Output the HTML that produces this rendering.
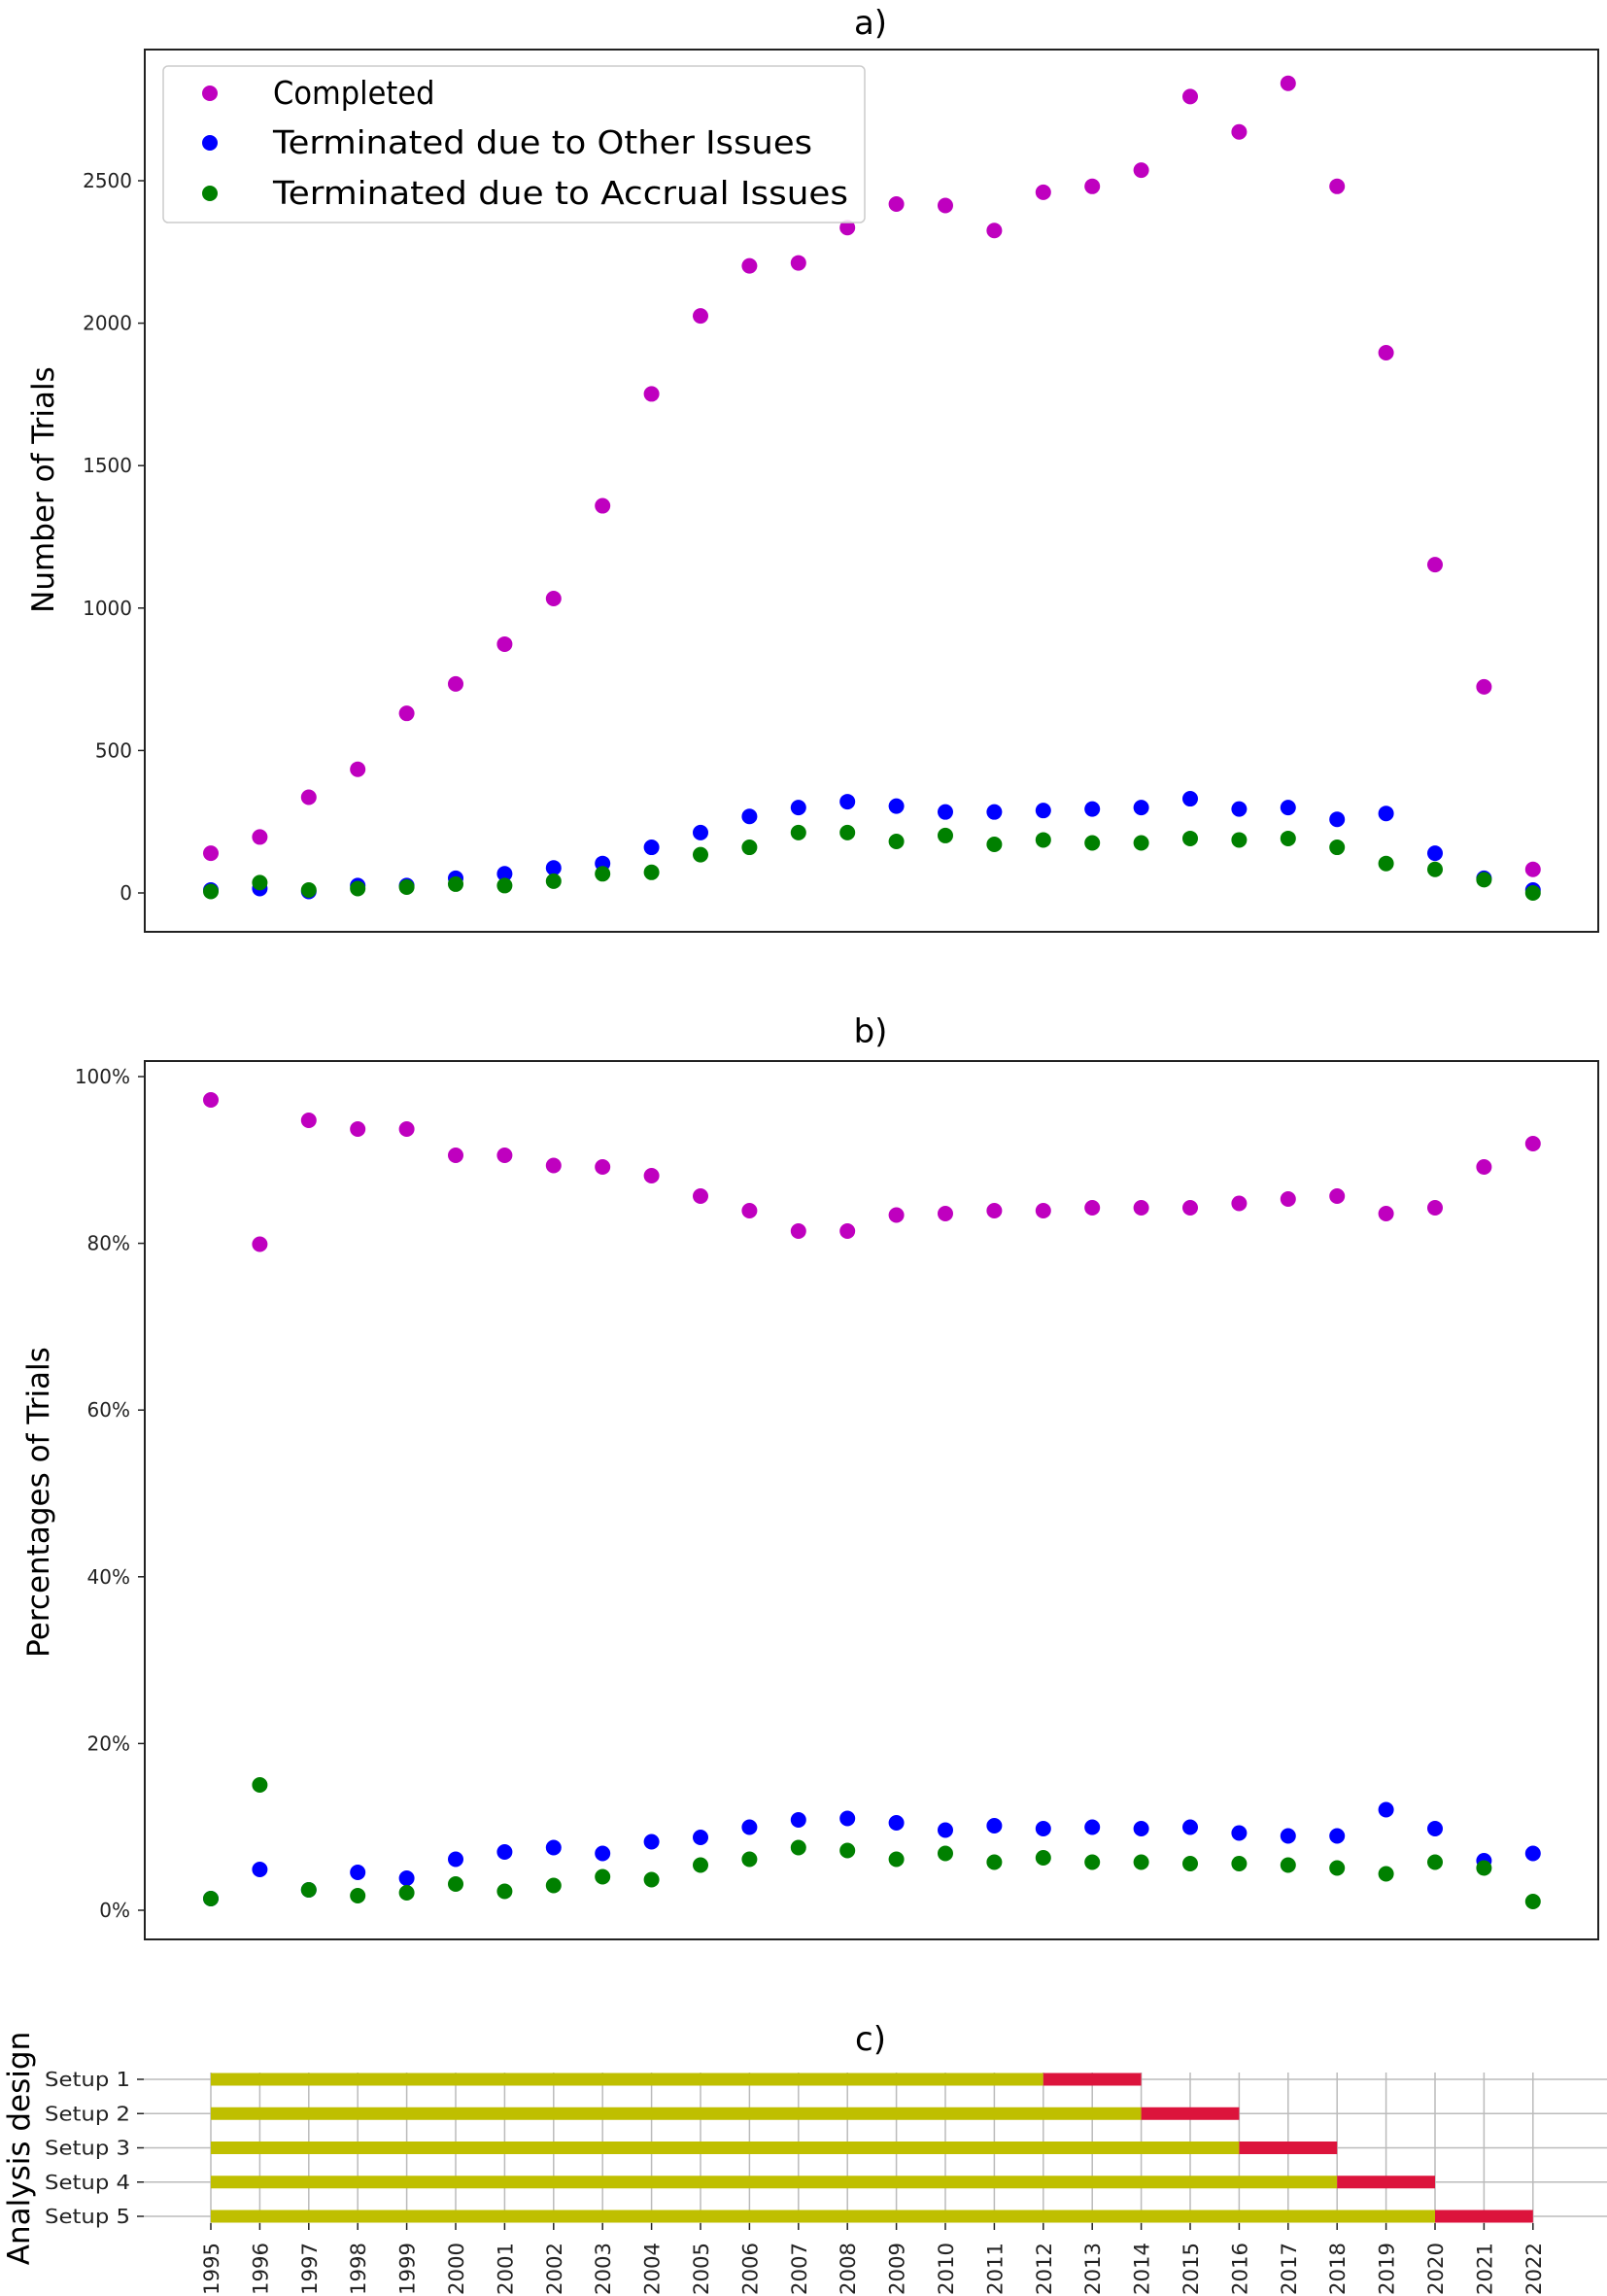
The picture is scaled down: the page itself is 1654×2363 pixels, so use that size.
<!DOCTYPE html>
<html><head><meta charset="utf-8"><style>body{margin:0;background:#fff}svg{display:block}</style></head>
<body>
<svg id="s" width="1654" height="2363" xmlns="http://www.w3.org/2000/svg" font-family="DejaVu Sans, Liberation Sans, sans-serif"></svg>
<script>
const s=document.getElementById('s');let h='';
const X=y=>217+(y-1995)*50.4;
// panel a
h+='<rect x="149" y="51" width="1496" height="908" fill="none" stroke="#222" stroke-width="2"/>';
for(let v=0;v<=2500;v+=500){const y=919-v*0.2932;h+=`<line x1="142" x2="149" y1="${y}" y2="${y}" stroke="#222" stroke-width="1.5"/><text x="136" y="${y+7}" font-size="20" text-anchor="end" fill="#222">${v}</text>`;}
h+='<text x="896" y="35" font-size="34" text-anchor="middle">a)</text>';
h+='<text transform="translate(55,504) rotate(-90)" font-size="31" text-anchor="middle">Number of Trials</text>';
const A={m:[583,572,545,526,488,468,441,410,347,271,218,184,182,158,142,143,160,134,130,119,69,93,60,130,243,387,470,594],
b:[608,607,609,605,605,600,597,593,590,579,569,558,552,548,551,555,555,554,553,552,546,553,552,560,556,583,600,608],
g:[609,603,608,607,606,604,605,602,597,596,584,579,569,569,575,571,577,574,576,576,573,574,573,579,590,594,601,610]};
const col={m:'#bf00bf',b:'#0000ff',g:'#008000'};
for(const k of ['m','b','g'])A[k].forEach((d,i)=>{h+=`<circle cx="${X(1995+i)}" cy="${919+(d-610)*1.515}" r="8" fill="${col[k]}"/>`});
h+='<rect x="168" y="68" width="722" height="161" rx="5" fill="#fff" fill-opacity="0.85" stroke="#ccc" stroke-width="1.5"/>';
[['m','Completed',96],['b','Terminated due to Other Issues',147],['g','Terminated due to Accrual Issues',199]].forEach(([k,t,y])=>{h+=`<circle cx="216" cy="${y}" r="8" fill="${col[k]}"/><text x="281" y="${y+11}" font-size="33" textLength="${t.length*18.5}" lengthAdjust="spacingAndGlyphs">${t}</text>`});
// panel b
h+='<rect x="149" y="1092" width="1496" height="904" fill="none" stroke="#222" stroke-width="2"/>';
for(let v=0;v<=100;v+=20){const y=1966-v*8.58;h+=`<line x1="142" x2="149" y1="${y}" y2="${y}" stroke="#222" stroke-width="1.5"/><text x="134" y="${y+7}" font-size="20" text-anchor="end" fill="#222">${v}%</text>`;}
h+='<text x="896" y="1073" font-size="34" text-anchor="middle">b)</text>';
h+='<text transform="translate(50,1546) rotate(-90)" font-size="31" text-anchor="middle">Percentages of Trials</text>';
const B={m:[751,850,765,771,771,789,789,796,797,803,817,827,841,841,830,829,827,827,825,825,825,822,819,817,829,825,797,781],
b:[1299,1279,1293,1281,1285,1272,1267,1264,1268,1260,1257,1250,1245,1244,1247,1252,1249,1251,1250,1251,1250,1254,1256,1256,1238,1251,1273,1268],
g:[1299,1221,1293,1297,1295,1289,1294,1290,1284,1286,1276,1272,1264,1266,1272,1268,1274,1271,1274,1274,1275,1275,1276,1278,1282,1274,1278,1301]};
for(const k of ['m','b','g'])B[k].forEach((d,i)=>{h+=`<circle cx="${X(1995+i)}" cy="${1108+(d-735)*1.5}" r="8" fill="${col[k]}"/>`});
// panel c
const XC=X;
h+='<text x="896" y="2110" font-size="34" text-anchor="middle">c)</text>';
h+='<text transform="translate(30,2211) rotate(-90)" font-size="31" text-anchor="middle">Analysis design</text>';
for(let y=1995;y<=2022;y++){const x=XC(y);h+=`<line x1="${x}" x2="${x}" y1="2133" y2="2288" stroke="#bbb" stroke-width="1.5"/><line x1="${x}" x2="${x}" y1="2288" y2="2295" stroke="#222" stroke-width="1.5"/><text transform="translate(${x+8},2362) rotate(-90)" font-size="21" textLength="54" lengthAdjust="spacingAndGlyphs" fill="#222">${y}</text>`;}
for(let i=0;i<5;i++){const y=2140+i*35.25;const e=2012+2*i;
h+=`<line x1="148" x2="1654" y1="${y}" y2="${y}" stroke="#bbb" stroke-width="1.5"/><line x1="141" x2="148" y1="${y}" y2="${y}" stroke="#222" stroke-width="1.5"/>`;
h+=`<text x="134" y="${y+7}" font-size="20" text-anchor="end" textLength="88" lengthAdjust="spacingAndGlyphs" fill="#222">Setup ${i+1}</text>`;
h+=`<rect x="${XC(1995)}" y="${y-6.5}" width="${XC(e)-XC(1995)}" height="13" fill="#bfbf00"/><rect x="${XC(e)}" y="${y-6.5}" width="${XC(e+2)-XC(e)}" height="13" fill="#dc143c"/>`;}
s.innerHTML=h;
</script>
</body></html>
